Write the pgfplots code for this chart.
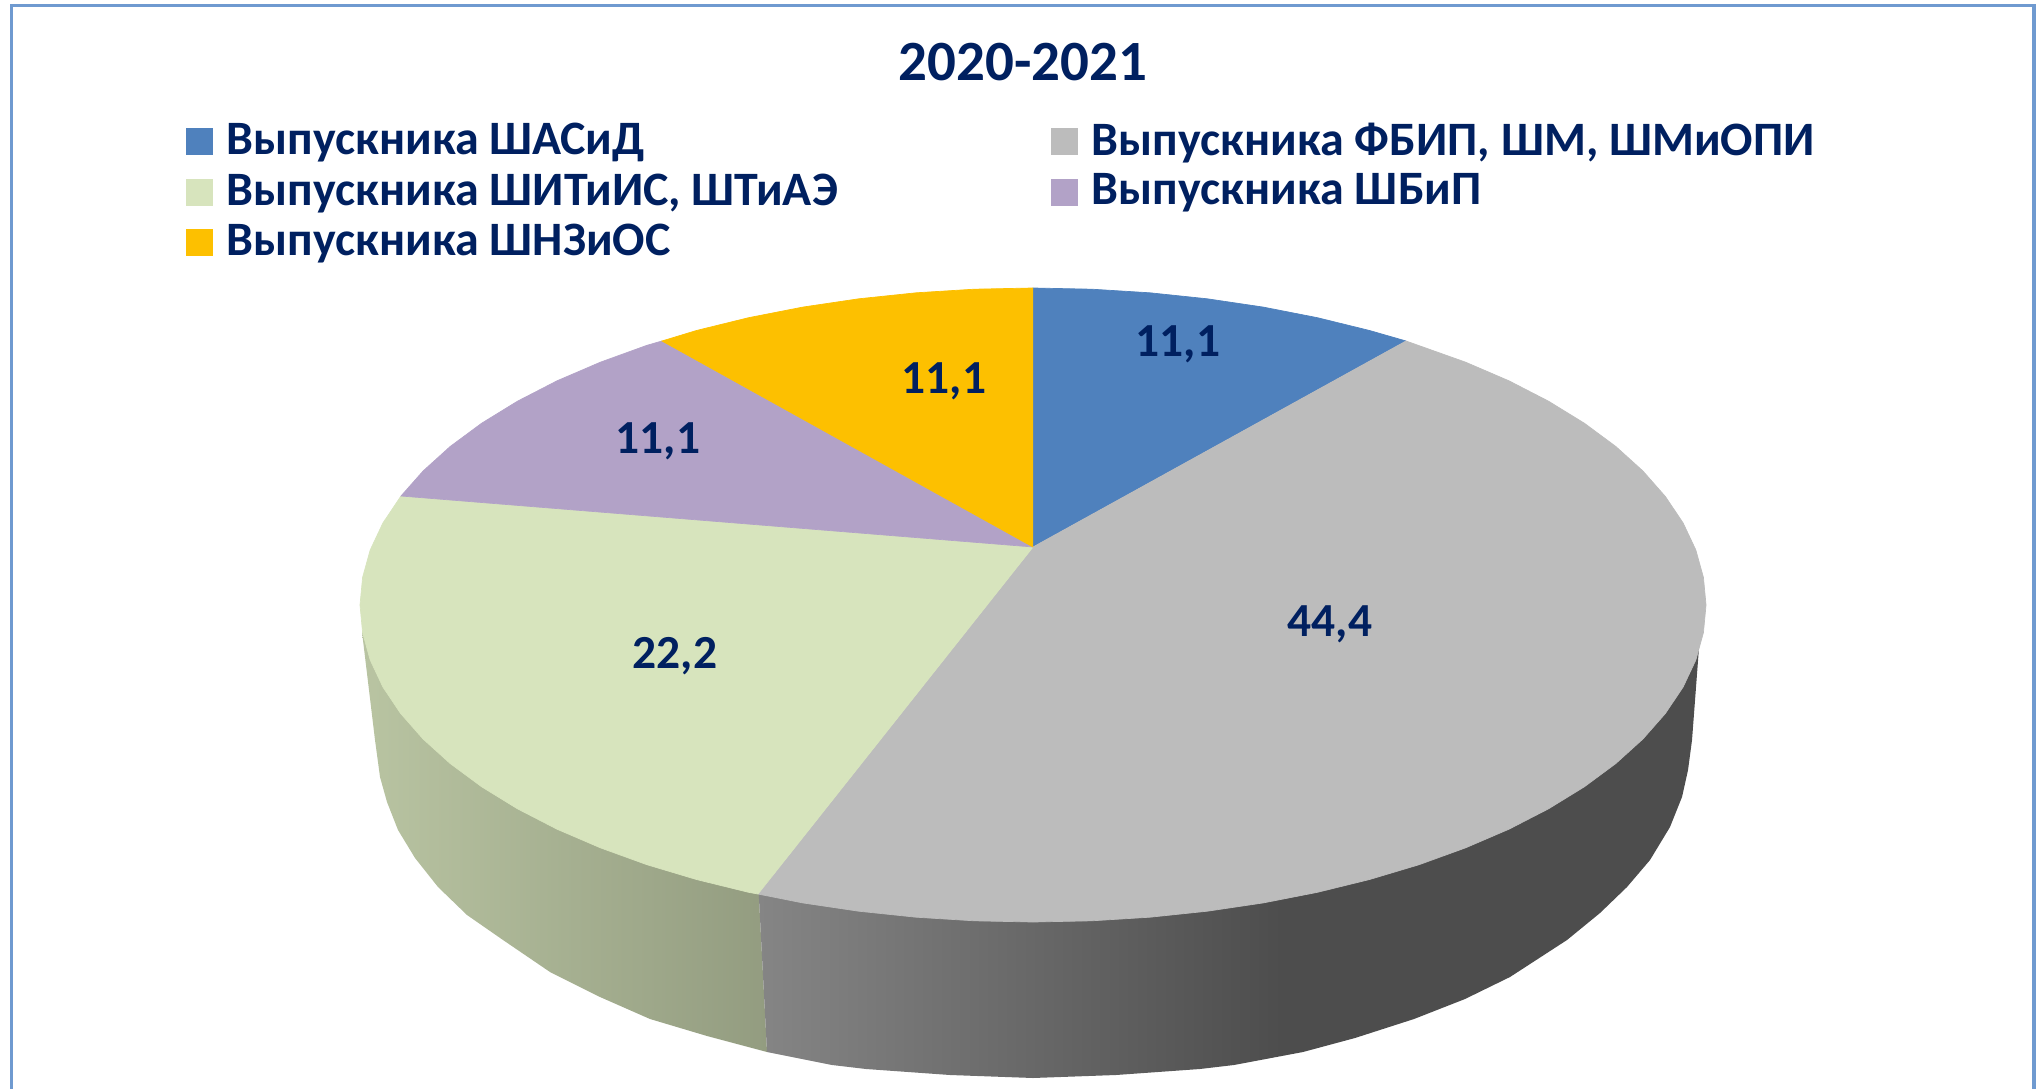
\documentclass[border=0pt]{standalone}
\usepackage{fontspec}
\setmainfont{Carlito}
\usepackage{pgfplots}
\pgfplotsset{compat=1.18}
\definecolor{navy}{HTML}{002060}
\definecolor{frameblue}{HTML}{6F9AD0}
\definecolor{sliceblue}{HTML}{4F81BD}
\definecolor{slicegray}{HTML}{BCBCBC}
\definecolor{slicegreen}{HTML}{D7E4BD}
\definecolor{slicepurple}{HTML}{B2A2C7}
\definecolor{sliceyellow}{HTML}{FDC000}
\pgfdeclarehorizontalshading{greenside}{100bp}{rgb(0bp)=(0.725,0.769,0.635); rgb(25bp)=(0.725,0.769,0.635); rgb(75bp)=(0.576,0.612,0.502); rgb(100bp)=(0.576,0.612,0.502)}
\pgfdeclarehorizontalshading{grayside}{100bp}{rgb(0bp)=(0.522,0.522,0.522); rgb(25bp)=(0.522,0.522,0.522); rgb(52.8bp)=(0.302,0.302,0.302); rgb(100bp)=(0.302,0.302,0.302)}
\begin{document}
\begin{tikzpicture}
\begin{axis}[
  scale only axis, width=20.36cm, height=10.89cm,
  xmin=0, xmax=2036, ymin=0, ymax=1089, y dir=reverse,
  axis lines=none, clip=true,
  legend columns=2,
  legend cell align=left,
  legend style={draw=none, fill=none, inner sep=0pt, at={(0.0908,0.8945)}, anchor=north west,
    font=\fontsize{13.65}{15}\selectfont\bfseries, text=navy,
    /tikz/every even column/.append style={column sep=58.6pt},
    /tikz/every odd column/.append style={column sep=2pt},
    row sep=-0.2pt},
  legend image code/.code={\fill[#1] (0pt,-3.7pt) rectangle (7.4pt,3.7pt);},
]
% frame
\addplot[frameblue, line width=1pt, forget plot] coordinates {(11.5,1089)(11.5,5.5)(2034,5.5)(2034,1089)};
% pie sides
\addplot[shading=greenside, draw=none, forget plot] coordinates {(362,632)(375,740)(380,777)(387,802)(398,830)(415,858)(438,887)(467,915)(503,940)(550,972)(600,997)(650,1019)(707,1036)(767,1052)(758,880)(400,640)};
\addplot[shading=grayside, draw=none, forget plot] coordinates {(767,1052)(832,1065)(866,1069)(950,1075)(1033,1078)(1116,1075)(1200,1069)(1234,1065)(1303,1052)(1355,1038)(1414,1019)(1465,999)(1510,977)(1567,940)(1600,913)(1627,887)(1650,860)(1670,827)(1682,797)(1688,770)(1692,740)(1700,634)(1650,640)(758,880)};
% pie top
\addplot[fill=sliceblue, draw=sliceblue, line width=0.2pt] coordinates {(1033,547)(1033,288)(1091.7,289.2)(1149.8,292.8)(1207.2,298.8)(1263.2,307.1)(1317.4,317.7)(1369.5,330.5)(1406,341)};
\addlegendentry{Выпускника ШАСиД}
\addplot[fill=slicegray, draw=slicegray, line width=0.2pt] coordinates {(1033,547)(1406,341)(1465.6,362.2)(1508.9,380.8)(1548.5,401.2)(1584.3,423.2)(1615.8,446.5)(1642.9,471)(1665.4,496.6)(1683.1,523)(1695.8,550)(1703.4,577.4)(1706,605)(1703.4,632.6)(1695.8,660)(1683.1,687)(1665.4,713.4)(1642.9,739)(1615.8,763.5)(1584.3,786.8)(1548.5,808.8)(1508.9,829.2)(1465.6,847.8)(1419,864.7)(1369.5,879.5)(1317.4,892.3)(1263.2,902.9)(1207.2,911.2)(1149.8,917.2)(1091.7,920.8)(1033,922)(974.3,920.8)(916.2,917.2)(858.8,911.2)(802.8,902.9)(758,894)};
\addlegendentry{Выпускника ФБИП, ШМ, ШМиОПИ}
\addplot[fill=slicegreen, draw=slicegreen, line width=0.2pt] coordinates {(1033,547)(758,894)(748.6,892.3)(696.5,879.5)(647,864.7)(600.4,847.8)(557.1,829.2)(517.5,808.8)(481.7,786.8)(450.2,763.5)(423.1,739)(400.6,713.4)(382.9,687)(370.2,660)(362.6,632.6)(360,605)(362.6,577.4)(370.2,550)(382.9,523)(401,496)};
\addlegendentry{Выпускника ШИТиИС, ШТиАЭ}
\addplot[fill=slicepurple, draw=slicepurple, line width=0.2pt] coordinates {(1033,547)(401,496)(423.1,471)(450.2,446.5)(481.7,423.2)(517.5,401.2)(557.1,380.8)(600.4,362.2)(647,345.3)(662,341)};
\addlegendentry{Выпускника ШБиП}
\addplot[fill=sliceyellow, draw=sliceyellow, line width=0.2pt] coordinates {(1033,547)(662,341)(696.5,330.5)(748.6,317.7)(802.8,307.1)(858.8,298.8)(916.2,292.8)(974.3,289.2)(1033,288)};
\addlegendentry{Выпускника ШНЗиОС}
% title and value labels
\node[text=navy, font=\fontsize{16.2}{18}\selectfont\bfseries] at (axis cs:1023,62) {2020-2021};
\node[text=navy, font=\fontsize{13.5}{15}\selectfont\bfseries] at (axis cs:1178,344) {11,1};
\node[text=navy, font=\fontsize{13.5}{15}\selectfont\bfseries] at (axis cs:1330,624) {44,4};
\node[text=navy, font=\fontsize{13.5}{15}\selectfont\bfseries] at (axis cs:675,656) {22,2};
\node[text=navy, font=\fontsize{13.5}{15}\selectfont\bfseries] at (axis cs:658,441) {11,1};
\node[text=navy, font=\fontsize{13.5}{15}\selectfont\bfseries] at (axis cs:944,381) {11,1};
\end{axis}
\path (current axis.south west) (current axis.north east);
\end{tikzpicture}
\end{document}
